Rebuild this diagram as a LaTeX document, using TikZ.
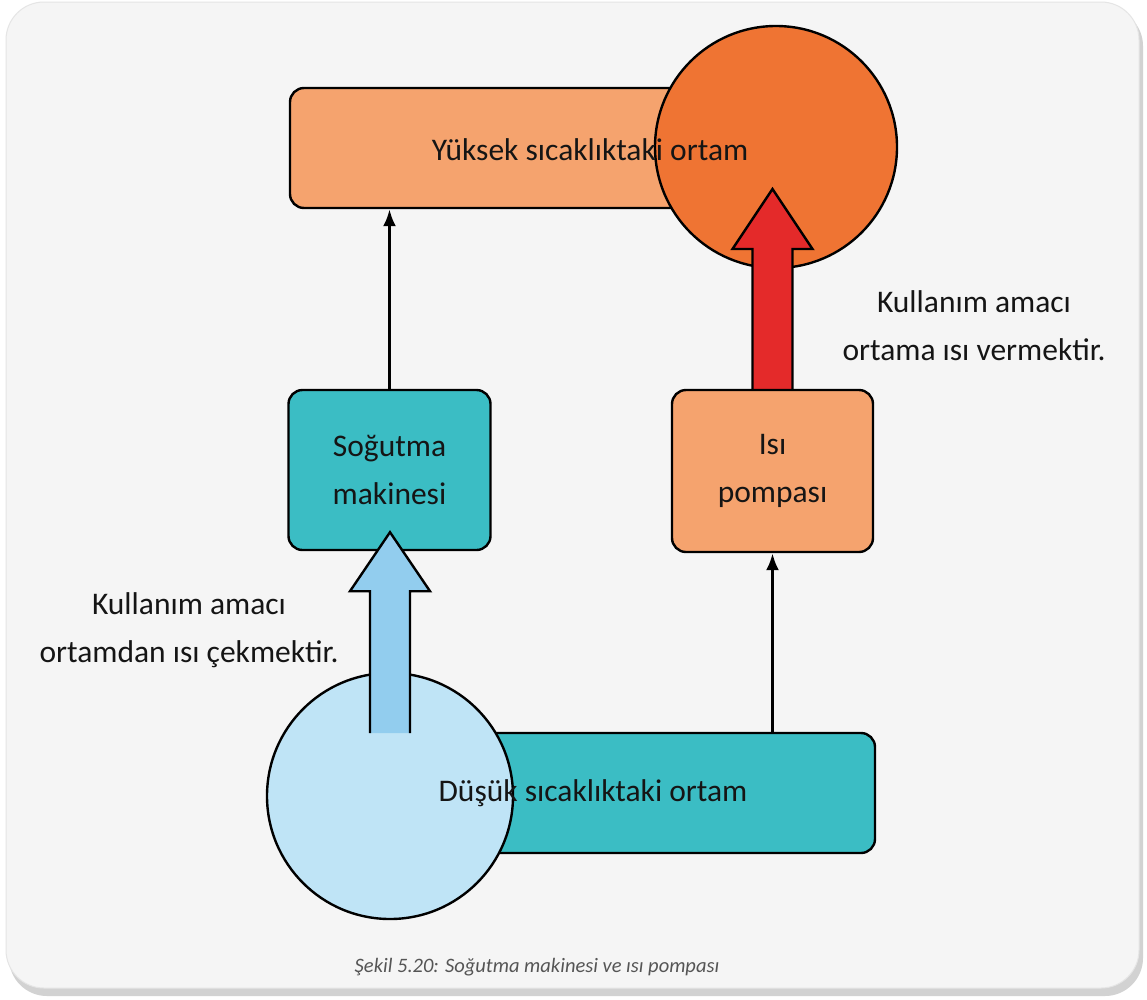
\documentclass[tikz,border=0pt]{standalone}
\usepackage{fontspec}
\setmainfont{Carlito}
\usetikzlibrary{arrows.meta,calc}
\definecolor{bgframe}{HTML}{F5F5F5}
\definecolor{lorange}{HTML}{F5A36E}
\definecolor{dorange}{HTML}{EF7433}
\definecolor{tealbox}{HTML}{3BBDC4}
\definecolor{lblue}{HTML}{BFE4F6}
\definecolor{mblue}{HTML}{92CDEE}
\definecolor{redarr}{HTML}{E42A2A}
\definecolor{txt}{HTML}{151515}
\definecolor{captxt}{HTML}{555555}
\begin{document}
\begin{tikzpicture}[x=1pt,y=-1pt,
  boxshape/.style={draw=black,line width=2.4pt,rounded corners=14pt,inner sep=0pt},
  circshape/.style={circle,draw=black,line width=2.4pt,inner sep=0pt},
  lbl/.style={font=\fontsize{31.5}{48}\selectfont,text=txt,align=center,inner sep=0pt},
  thinarrow/.style={line width=3pt,-{Latex[length=17pt,width=13pt]}},
  bigarrow/.style={draw=black,line width=2.4pt,line join=miter}
]
\useasboundingbox (0,0) rectangle (1147,999);
\fill[white] (0,0) rectangle (1147,999);
% frame
\fill[gray!35,rounded corners=38pt] (9,8) rectangle (1143,996);
\fill[bgframe,draw=gray!20,line width=1pt,rounded corners=38pt] (6,2) rectangle (1139,988);

% top: high temperature medium
\node[boxshape,fill=lorange,minimum width=410pt,minimum height=120pt] (yuksek) at (495,148) {};
\node[circshape,fill=dorange,minimum size=242pt] (ocirc) at (776,147) {};
\node[lbl] (yuksektxt) at (590,150) {Yüksek sıcaklıktaki ortam};

% heat pump box and red arrow
\coordinate (rtip) at (772.5,189);
\filldraw[bigarrow,fill=redarr]
  ($(772.5,390)+(-20,0)$) -- ($(rtip)+(-20,60)$) -- ($(rtip)+(-40,60)$) -- (rtip)
  -- ($(rtip)+(40,60)$) -- ($(rtip)+(20,60)$) -- ($(772.5,390)+(20,0)$);
\node[boxshape,fill=lorange,minimum width=201pt,minimum height=162pt] (isi) at (772.5,471) {};
\node[lbl] (isitxt) at (isi.center) {Isı\\pompası};

% refrigerator box
\node[boxshape,fill=tealbox,minimum width=202pt,minimum height=160pt] (sog) at (389.5,470) {};
\node[lbl] (sogtxt) at (sog.center) {Soğutma\\makinesi};

% low temperature medium
\node[boxshape,fill=tealbox,minimum width=475pt,minimum height=120pt] (dusuk) at (637.5,793) {};
\node[circshape,fill=lblue,minimum size=246pt] (bcirc) at (390,796) {};

% blue arrow
\coordinate (btip) at ($(sog.south)+(0.5,-19)$);
\coordinate (bbase) at ($(bcirc.center)+(0,-63)$);
\fill[mblue] ($(bbase)+(-20,0)$) -- ($(btip)+(-20,59)$) -- ($(btip)+(-40,59)$) -- (btip)
  -- ($(btip)+(40,59)$) -- ($(btip)+(20,59)$) -- ($(bbase)+(20,0)$) -- cycle;
\draw[bigarrow] ($(bbase)+(-20,0)$) -- ($(btip)+(-20,59)$) -- ($(btip)+(-40,59)$) -- (btip)
  -- ($(btip)+(40,59)$) -- ($(btip)+(20,59)$) -- ($(bbase)+(20,0)$);

\node[lbl] (dusuktxt) at (593,793) {Düşük sıcaklıktaki ortam};

% thin arrows
\draw[thinarrow] (sog.north) -- (sog.north |- yuksek.south);
\draw[thinarrow] (isi.south |- dusuk.north) -- (isi.south);

% side labels
\node[lbl] (lefttxt) at (189,630) {Kullanım amacı\\ortamdan ısı çekmektir.};
\node[lbl] (righttxt) at (974,326) {Kullanım amacı\\ortama ısı vermektir.};

% caption
\node[font=\itshape\fontsize{20.5}{24}\selectfont,text=captxt,inner sep=0pt] (cap) at (537,967) {Şekil 5.20: Soğutma makinesi ve ısı pompası};
\end{tikzpicture}
\end{document}
